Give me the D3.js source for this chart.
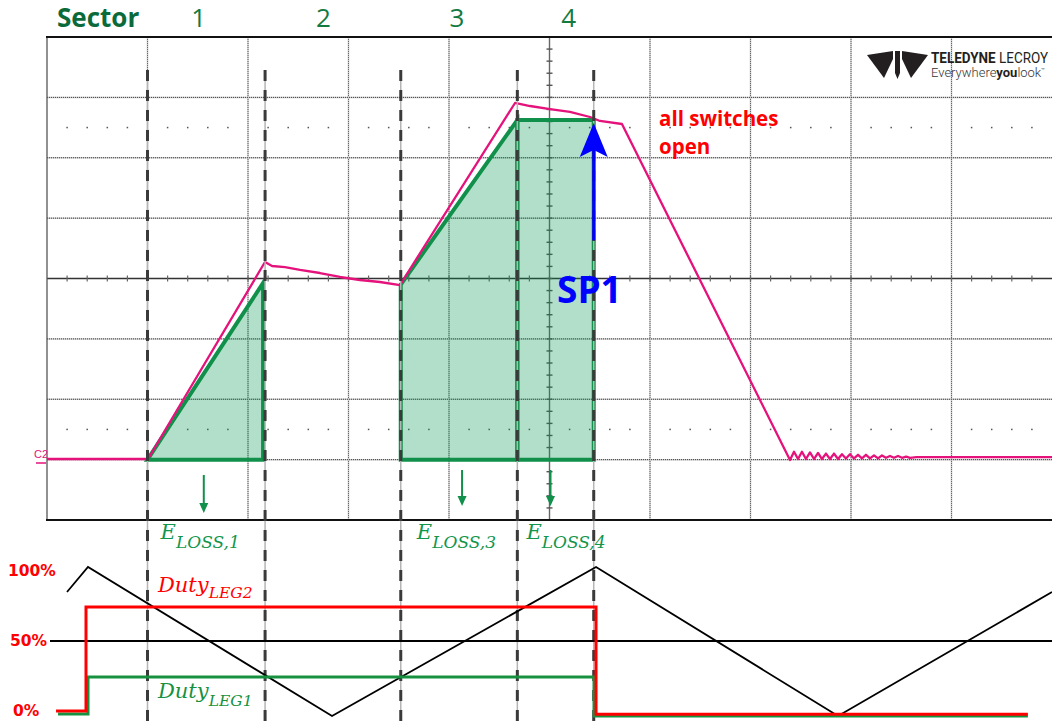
<!DOCTYPE html>
<html>
<head>
<meta charset="utf-8">
<script src="https://cdn.jsdelivr.net/npm/d3@7"></script>
<style>
  html, body { margin: 0; padding: 0; background: #fff; }
  svg { display: block; }
</style>
</head>
<body>
<svg id="chart" width="1052" height="721"></svg>
<script>
// ---- data (time in scope divisions, voltage in scope divisions, duty in %) ----
const sectorBounds = [1.0, 2.17, 3.52, 4.68, 5.44];
const sectorNames = ["1", "2", "3", "4"];
const sectorLabelT = [1.51, 2.75, 4.08, 5.19];

// scope trace (C2)
const traceT = [0, 1.005, 2.169, 2.239, 2.368, 2.517, 2.716, 2.915, 3.114, 3.313, 3.512,
  4.657, 4.806, 5.005, 5.204, 5.403, 5.502, 5.721, 7.393,
  7.433, 7.473, 7.512, 7.552, 7.592, 7.632, 7.672, 7.711, 7.751, 7.791, 7.831, 7.871,
  7.910, 7.950, 7.990, 8.030, 8.070, 8.109, 8.149, 8.189, 8.229, 8.269, 8.308, 8.348,
  8.388, 8.428, 8.468, 8.508, 8.548, 8.588, 8.65, 10];
const traceV = [-2.99, -2.99, 0.273, 0.207, 0.19, 0.141, 0.091, 0.025, -0.025, -0.058, -0.108,
  2.907, 2.857, 2.807, 2.758, 2.675, 2.609, 2.559, -3.006,
  -2.87, -2.99, -2.87, -2.99, -2.88, -2.99, -2.89, -2.99, -2.90, -2.99, -2.90, -2.99,
  -2.91, -2.98, -2.91, -2.98, -2.92, -2.98, -2.92, -2.98, -2.93, -2.98, -2.93, -2.97,
  -2.94, -2.97, -2.94, -2.97, -2.95, -2.97, -2.96, -2.96];

// switching-loss areas
const loss1 = [[1.0, -3], [2.15, -0.075], [2.15, -3]];
const loss3 = [[3.52, -3], [3.52, -0.1], [4.68, 2.625], [4.68, -3]];
const loss4 = [[4.68, 2.625], [5.44, 2.625], [5.44, -3], [4.68, -3]];
const lossArrowT = [1.56, 4.13, 5.01];
const lossLabels = [
  { t: 1.13, sub: "LOSS,1" },
  { t: 3.68, sub: "LOSS,3" },
  { t: 4.77, sub: "LOSS,4" }
];

// SP1 arrow (time, from voltage, to voltage)
const sp1 = { t: 5.44, from: 0.634, to: 2.576 };

// carrier and duty cycles
const carrierT = [0.199, 0.408, 2.836, 5.463, 7.871, 10];
const carrierP = [85, 102.9, -3.6, 102.9, -3.6, 85];
const dutyLeg2T = [0.09, 0.388, 0.388, 5.463, 5.463, 9.76];
const dutyLeg2P = [0, 0, 74.3, 74.3, -2.3, -2.3];
const dutyLeg1T = [0.11, 0.408, 0.408, 5.443, 5.443, 9.76];
const dutyLeg1P = [-2.1, -2.1, 24.3, 24.3, -3.6, -3.6];
const percentTicks = [100, 50, 0];
const percentLabels = ["100%", "50%", "0%"];

// ---- scales ----
const svg = d3.select("#chart");
const x = d3.scaleLinear().domain([0, 10]).range([47, 1052]);
const y = d3.scaleLinear().domain([-4, 4]).range([520, 37]);
const yP = d3.scaleLinear().domain([0, 100]).range([711, 571]);

const GREEN = "#10904a";
const DARKGREEN = "#0b6a3a";
const PINK = "#e5127b";

// ---- scope grid ----
const grid = svg.append("g");
const vDivs = d3.range(1, 10).filter(d => d !== 5);
const hDivs = d3.range(-3, 4).filter(d => d !== 0);

grid.selectAll(".vg").data(vDivs).join("line")
  .attr("x1", d => x(d)).attr("x2", d => x(d)).attr("y1", y(4)).attr("y2", y(-4))
  .attr("stroke", "#c8c8c8").attr("stroke-width", 1.5);
grid.selectAll(".vgd").data(vDivs).join("line")
  .attr("x1", d => x(d)).attr("x2", d => x(d)).attr("y1", y(4)).attr("y2", y(-4))
  .attr("stroke", "#666").attr("stroke-width", 1).attr("stroke-dasharray", "1,1");
grid.selectAll(".hg").data(hDivs).join("line")
  .attr("x1", x(0)).attr("x2", x(10)).attr("y1", d => y(d)).attr("y2", d => y(d))
  .attr("stroke", "#c8c8c8").attr("stroke-width", 1.5);
grid.selectAll(".hgd").data(hDivs).join("line")
  .attr("x1", x(0)).attr("x2", x(10)).attr("y1", d => y(d)).attr("y2", d => y(d))
  .attr("stroke", "#444").attr("stroke-width", 1).attr("stroke-dasharray", "1,1");

// dotted marker rows at +/-2.5 div
const subX = d3.range(1, 50).filter(i => i % 5 !== 0).map(i => i / 5);
[2.5, -2.5].forEach(v => {
  grid.selectAll(null).data(subX).join("rect")
    .attr("x", d => x(d) - 0.75).attr("y", y(v) - 0.75)
    .attr("width", 1.5).attr("height", 1.5).attr("fill", "#555");
});

// centre axes with minor ticks
grid.append("line").attr("x1", x(0)).attr("x2", x(10)).attr("y1", y(0)).attr("y2", y(0))
  .attr("stroke", "#333").attr("stroke-width", 1.6);
grid.append("line").attr("x1", x(5)).attr("x2", x(5)).attr("y1", y(4)).attr("y2", y(-4))
  .attr("stroke", "#666").attr("stroke-width", 1.4);
grid.selectAll(".htick").data(d3.range(1, 50).map(i => i / 5)).join("line")
  .attr("x1", d => x(d)).attr("x2", d => x(d)).attr("y1", y(0) - 3).attr("y2", y(0) + 3)
  .attr("stroke", "#666").attr("stroke-width", 1.2);
grid.selectAll(".vtick").data(d3.range(-19, 20).map(i => i / 5)).join("line")
  .attr("x1", x(5) - 3).attr("x2", x(5) + 3).attr("y1", d => y(d)).attr("y2", d => y(d))
  .attr("stroke", "#555").attr("stroke-width", 1.4);

// frame
grid.append("line").attr("x1", x(0)).attr("x2", x(0)).attr("y1", y(4)).attr("y2", y(-4))
  .attr("stroke", "#555").attr("stroke-width", 1.3);
grid.append("line").attr("x1", x(0) - 1).attr("x2", x(10)).attr("y1", y(4)).attr("y2", y(4))
  .attr("stroke", "#111").attr("stroke-width", 2);
grid.append("line").attr("x1", x(0) - 1).attr("x2", x(10)).attr("y1", y(-4)).attr("y2", y(-4))
  .attr("stroke", "#111").attr("stroke-width", 2);

// ---- logo ----
const logo = svg.append("g").attr("fill", "#231f20");
logo.append("path").attr("d", "M867,55 L893,51 L893,59 L884,78 Z");
logo.append("path").attr("d", "M895,51 L900,51 L900,73 L897.5,79 L895,73 Z");
logo.append("path").attr("d", "M928,55 L902,51 L902,59 L911,78 Z");
const lt = logo.append("text").attr("x", 931).attr("y", 63)
  .attr("font-family", "Roboto, 'Liberation Sans', sans-serif").attr("font-size", 14.5)
  .attr("textLength", 117).attr("lengthAdjust", "spacingAndGlyphs");
lt.append("tspan").attr("font-weight", "bold").text("TELEDYNE");
lt.append("tspan").text(" LECROY");
const lt2 = logo.append("text").attr("x", 931).attr("y", 77)
  .attr("font-family", "Roboto, 'Liberation Sans', sans-serif").attr("font-size", 13)
  .attr("textLength", 114).attr("lengthAdjust", "spacingAndGlyphs").attr("fill", "#333");
lt2.append("tspan").attr("font-weight", 300).text("Everywhere");
lt2.append("tspan").attr("font-weight", "bold").attr("fill", "#231f20").text("you");
lt2.append("tspan").attr("font-weight", 300).text("look");
lt2.append("tspan").attr("font-size", 6).attr("dy", -5).text("™");

// ---- loss areas ----
const poly = d3.line().x(d => x(d[0])).y(d => y(d[1]));
[loss1, loss3, loss4].forEach(p => {
  svg.append("path").attr("d", poly(p) + "Z")
    .attr("fill", "rgb(0,150,80)").attr("fill-opacity", 0.3)
    .attr("stroke", GREEN).attr("stroke-width", 4).attr("stroke-linejoin", "miter");
});

// ---- scope trace ----
const traceData = traceT.map((t, i) => [t, traceV[i]]);
svg.append("path").attr("d", poly(traceData))
  .attr("fill", "none").attr("stroke", PINK).attr("stroke-width", 2.3)
  .attr("stroke-linejoin", "round");

// channel marker
svg.append("text").attr("x", 34).attr("y", 458).attr("font-size", 11)
  .attr("font-family", "'Liberation Sans', sans-serif").attr("fill", PINK).text("C2");
svg.append("line").attr("x1", 36).attr("x2", 46).attr("y1", 463).attr("y2", 463)
  .attr("stroke", PINK).attr("stroke-width", 1.5);

// ---- sector boundaries ----
svg.selectAll(".sbg").data(sectorBounds).join("line")
  .attr("x1", d => x(d)).attr("x2", d => x(d)).attr("y1", 70).attr("y2", 721)
  .attr("stroke", "#b5b5b5").attr("stroke-width", 1.5);
svg.selectAll(".sb").data(sectorBounds).join("line")
  .attr("x1", d => x(d)).attr("x2", d => x(d)).attr("y1", 70).attr("y2", 721)
  .attr("stroke", "#3a3a3a").attr("stroke-width", 3).attr("stroke-dasharray", "11,9");

// sector header
svg.append("text").attr("x", 57).attr("y", 27).attr("font-family", "'Open Sans', sans-serif")
  .attr("font-size", 26).attr("font-weight", "bold").attr("fill", DARKGREEN).text("Sector");
svg.selectAll(".sn").data(sectorNames).join("text")
  .attr("x", (d, i) => x(sectorLabelT[i])).attr("y", 27).attr("text-anchor", "middle")
  .attr("font-family", "'Open Sans', sans-serif").attr("font-size", 26)
  .attr("fill", "#137a42").text(d => d);

// ---- SP1 arrow ----
svg.append("line").attr("x1", x(sp1.t)).attr("x2", x(sp1.t))
  .attr("y1", y(sp1.from)).attr("y2", y(sp1.to) + 20)
  .attr("stroke", "#0000ff").attr("stroke-width", 3);
svg.append("path")
  .attr("d", `M${x(sp1.t)},${y(sp1.to)} L${x(sp1.t) + 14},${y(sp1.to) + 34} L${x(sp1.t)},${y(sp1.to) + 27} L${x(sp1.t) - 14},${y(sp1.to) + 34} Z`)
  .attr("fill", "#0000ff");
svg.append("text").attr("x", 557).attr("y", 303).attr("font-family", "'Open Sans', sans-serif")
  .attr("font-size", 37).attr("font-weight", "bold").attr("fill", "#0000ff").text("SP1");

// all switches open
const aso = svg.append("text").attr("font-family", "'Open Sans', sans-serif")
  .attr("font-size", 20.5).attr("font-weight", "bold").attr("fill", "#ff0000");
aso.append("tspan").attr("x", 659).attr("y", 126).text("all switches");
aso.append("tspan").attr("x", 659).attr("y", 154).text("open");

// ---- loss arrows and labels ----
lossArrowT.forEach((t, i) => {
  const top = i === 0 ? 475 : 470, tip = i === 0 ? 513 : 506;
  svg.append("line").attr("x1", x(t)).attr("x2", x(t)).attr("y1", top).attr("y2", tip - 6)
    .attr("stroke", GREEN).attr("stroke-width", 2);
  svg.append("path").attr("d", `M${x(t) - 4.5},${tip - 10} L${x(t) + 4.5},${tip - 10} L${x(t)},${tip} Z`)
    .attr("fill", GREEN);
});
lossLabels.forEach(l => {
  const tx = svg.append("text").attr("x", x(l.t)).attr("y", 539)
    .attr("font-family", "'DejaVu Serif', serif").attr("font-style", "italic").attr("fill", "#12964c");
  tx.append("tspan").attr("font-size", 21).text("E");
  tx.append("tspan").attr("font-size", 17).attr("dy", 9).text(l.sub);
});

// ---- carrier / duty panel ----
svg.append("line").attr("x1", 50).attr("x2", 1052).attr("y1", yP(50)).attr("y2", yP(50))
  .attr("stroke", "#000").attr("stroke-width", 1.8);

const lineT = d3.line().x(d => x(d[0])).y(d => yP(d[1]));
svg.append("path").attr("d", lineT(carrierT.map((t, i) => [t, carrierP[i]])))
  .attr("fill", "none").attr("stroke", "#000").attr("stroke-width", 1.8);
svg.append("path").attr("d", lineT(dutyLeg1T.map((t, i) => [t, dutyLeg1P[i]])))
  .attr("fill", "none").attr("stroke", "#17913f").attr("stroke-width", 3);
svg.append("path").attr("d", lineT(dutyLeg2T.map((t, i) => [t, dutyLeg2P[i]])))
  .attr("fill", "none").attr("stroke", "#ff0000").attr("stroke-width", 3);

svg.selectAll(".pl").data(percentTicks).join("text")
  .attr("x", (d, i) => [8, 10, 13][i]).attr("y", d => yP(d) + 5)
  .attr("font-family", "'DejaVu Sans', sans-serif").attr("font-size", 15.5).attr("font-weight", "bold")
  .attr("fill", "#ff0000").text((d, i) => percentLabels[i]);

const d2 = svg.append("text").attr("x", 158).attr("y", 592)
  .attr("font-family", "'DejaVu Serif', serif").attr("font-style", "italic").attr("fill", "#ff0000");
d2.append("tspan").attr("font-size", 21).text("Duty");
d2.append("tspan").attr("font-size", 15.5).attr("dy", 6).text("LEG2");
const d1 = svg.append("text").attr("x", 158).attr("y", 698)
  .attr("font-family", "'DejaVu Serif', serif").attr("font-style", "italic").attr("fill", "#17913f");
d1.append("tspan").attr("font-size", 21).text("Duty");
d1.append("tspan").attr("font-size", 15.5).attr("dy", 8).text("LEG1");
</script>
</body>
</html>
